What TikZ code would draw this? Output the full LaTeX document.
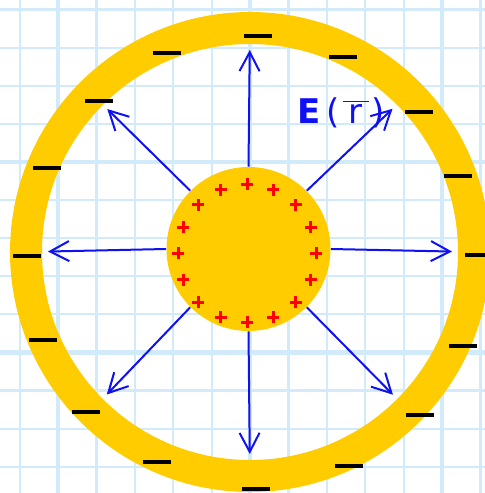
\documentclass[tikz,border=0pt]{standalone}
\usepackage{fontspec}
\setmainfont{DejaVu Sans}
\usetikzlibrary{arrows.meta}
\definecolor{Ring}{HTML}{FFCC00}
\definecolor{Grid}{HTML}{D2EBFA}
\definecolor{Field}{HTML}{1010F5}
\definecolor{Plus}{HTML}{FF0000}

\begin{document}
\begin{tikzpicture}[x=0.5pt,y=0.5pt,
    gridline/.style={draw=Grid,line width=1.1pt},
    majorline/.style={draw=Grid,line width=2.3pt},
    shell/.style={circle,draw=Ring,line width=16pt,minimum size=224pt,inner sep=0pt,outer sep=0pt},
    core/.style={circle,fill=Ring,minimum size=82pt,inner sep=0pt},
    field/.style={-{Straight Barb[length=9.5pt,width=10pt]},draw=Field,line width=1pt},
    pluscharge/.style={draw=Plus,line width=1.5pt},
    minuscharge/.style={draw=black,line width=2pt}
]
\useasboundingbox (0,0) rectangle (485,493);
\clip (0,0) rectangle (485,493);
\fill[white] (0,0) rectangle (485,493);
\foreach \k in {0,...,12}{\draw[gridline] ({19.6+38.4*\k},0) -- ({19.6+38.4*\k},493);}
\foreach \k in {0,...,12}{\draw[gridline] (0,{26.2+38.1*\k}) -- (485,{26.2+38.1*\k});}
\foreach \x in {58,250,442}{\draw[majorline] (\x,0) -- (\x,493);}
\foreach \y in {140.5,331}{\draw[majorline] (0,\y) -- (485,\y);}
\node[shell] (shell) at (250,241) {};
\node[core] (core) at (248.5,244) {};
\foreach \a in {0,45,...,315}{\draw[field,shorten >=11pt] (core.\a) -- (shell.\a);}
\foreach \a in {0,22.5,...,337.5}{\draw[pluscharge] (247,239.5) ++(\a:69) +(-6,0) -- +(6,0) +(0,-6) -- +(0,6);}
\foreach \p in {(258,457),(343,436),(419,381),(458,317),(479,238),(463,147),(420,78),(349,27),
    (256,4),(157,31),(86,81),(43,153),(27,237),(47,325),(99,392),(167,440)}{\draw[minuscharge] \p +(-14,0) -- +(14,0);}
\node[text=Field,font=\fontsize{17}{20}\selectfont] (efield) at (341,380)
    {\textbf{E}\kern3pt(\kern1.5pt$\overline{\hbox{\kern3pt r\kern3pt}}$\kern1.5pt)};
\end{tikzpicture}
\end{document}
